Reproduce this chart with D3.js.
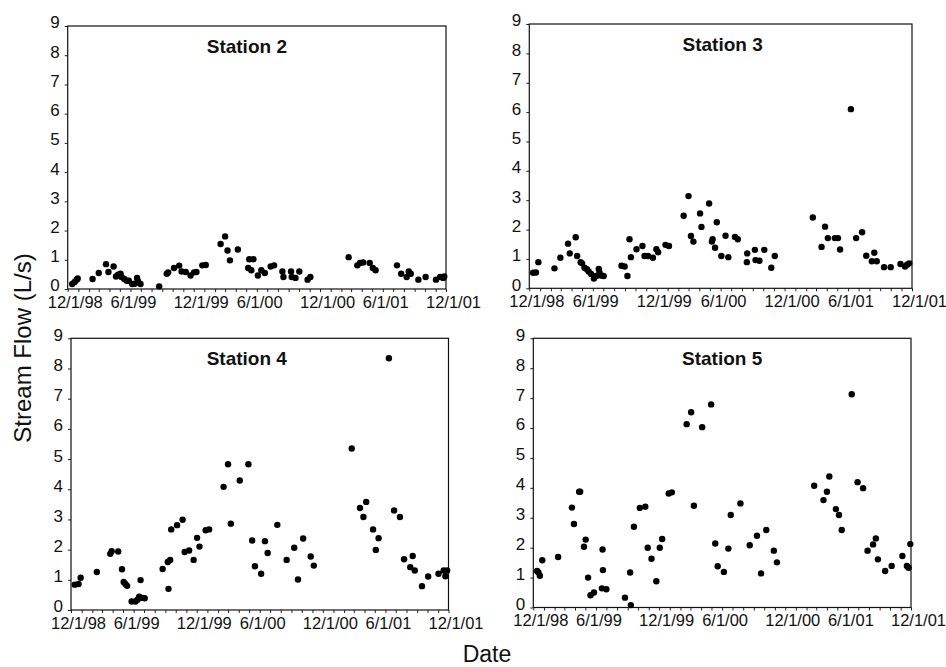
<!DOCTYPE html>
<html>
<head>
<meta charset="utf-8">
<script src="https://cdn.jsdelivr.net/npm/d3@7"></script>
<style>
  html, body { margin: 0; padding: 0; background: #fff; }
  svg { display: block; }
  text { font-family: "Liberation Sans", Arial, sans-serif; fill: #111; }
</style>
</head>
<body>
<svg id="chart" width="946" height="667"></svg>
<script>
// Sampling dates and measured stream flow (L/s) for each station
const station2Dates = ["1998-12-14","1998-12-21","1998-12-27","1998-12-30","1999-02-11","1999-03-01","1999-03-22","1999-03-29","1999-04-13","1999-04-20","1999-04-26","1999-05-03","1999-05-06","1999-05-14","1999-05-21","1999-05-27","1999-06-06","1999-06-13","1999-06-20","1999-06-23","1999-06-30","1999-08-23","1999-09-14","1999-09-18","1999-10-05","1999-10-20","1999-10-27","1999-11-08","1999-11-22","1999-12-02","1999-12-09","1999-12-26","2000-01-05","2000-02-17","2000-03-01","2000-03-08","2000-03-15","2000-04-07","2000-05-07","2000-05-10","2000-05-16","2000-05-22","2000-06-04","2000-06-14","2000-06-24","2000-07-11","2000-07-21","2000-08-14","2000-08-17","2000-09-08","2000-09-10","2000-09-21","2000-10-02","2000-10-26","2000-11-03","2001-02-22","2001-03-19","2001-03-27","2001-04-05","2001-04-24","2001-05-03","2001-05-11","2001-07-12","2001-07-24","2001-08-09","2001-08-15","2001-08-21","2001-09-12","2001-10-03","2001-11-02","2001-11-14","2001-11-23","2001-11-26"];
const station2Flow = [0.17,0.24,0.32,0.36,0.34,0.55,0.85,0.58,0.77,0.43,0.49,0.52,0.41,0.34,0.28,0.28,0.17,0.18,0.38,0.26,0.17,0.09,0.52,0.57,0.72,0.80,0.60,0.58,0.46,0.57,0.58,0.81,0.82,1.54,1.80,1.32,0.98,1.35,0.72,1.02,0.64,1.02,0.46,0.64,0.55,0.77,0.81,0.60,0.41,0.60,0.41,0.38,0.60,0.32,0.41,1.09,0.81,0.89,0.91,0.89,0.72,0.64,0.81,0.52,0.41,0.60,0.52,0.32,0.41,0.32,0.41,0.38,0.43];

const station3Dates = ["1998-12-12","1998-12-20","1998-12-27","1999-02-11","1999-02-28","1999-03-22","1999-03-27","1999-04-13","1999-04-17","1999-04-27","1999-05-01","1999-05-08","1999-05-15","1999-05-20","1999-05-27","1999-06-04","1999-06-11","1999-06-18","1999-06-20","1999-06-26","1999-07-02","1999-08-22","1999-08-31","1999-09-08","1999-09-14","1999-09-18","1999-10-04","1999-10-21","1999-10-27","1999-11-06","1999-11-20","1999-11-30","1999-12-05","1999-12-26","2000-01-05","2000-02-16","2000-03-01","2000-03-08","2000-03-15","2000-04-03","2000-04-07","2000-04-29","2000-05-07","2000-05-09","2000-05-16","2000-05-21","2000-06-03","2000-06-15","2000-06-23","2000-07-12","2000-07-20","2000-08-15","2000-08-16","2000-09-07","2000-09-09","2000-09-20","2000-10-04","2000-10-24","2000-11-03","2001-02-20","2001-03-17","2001-03-27","2001-04-04","2001-04-24","2001-05-03","2001-05-09","2001-06-09","2001-06-24","2001-07-11","2001-07-23","2001-08-08","2001-08-15","2001-08-22","2001-09-12","2001-10-01","2001-10-29","2001-11-11","2001-11-17","2001-11-23"];
const station3Flow = [0.53,0.54,0.89,0.68,1.04,1.52,1.19,1.74,1.10,0.89,0.85,0.70,0.65,0.57,0.49,0.33,0.42,0.66,0.54,0.43,0.42,0.77,0.74,0.42,1.67,1.06,1.33,1.44,1.10,1.10,1.04,1.33,1.23,1.48,1.44,2.47,3.14,1.78,1.59,2.55,2.09,2.89,1.59,1.67,1.38,2.25,1.10,1.79,1.06,1.75,1.67,0.89,1.19,1.31,0.96,0.94,1.31,0.70,1.10,2.41,1.41,2.10,1.71,1.71,1.71,1.32,6.10,1.71,1.91,1.11,0.92,1.21,0.92,0.72,0.72,0.83,0.74,0.80,0.85];

const station4Dates = ["1998-12-12","1998-12-23","1998-12-29","1999-02-14","1999-03-25","1999-03-29","1999-04-17","1999-04-28","1999-05-03","1999-05-08","1999-05-13","1999-05-26","1999-06-06","1999-06-12","1999-06-17","1999-06-21","1999-06-26","1999-07-03","1999-08-24","1999-09-08","1999-09-10","1999-09-15","1999-09-18","1999-10-05","1999-10-21","1999-10-27","1999-11-09","1999-11-22","1999-12-02","1999-12-09","1999-12-27","2000-01-06","2000-02-17","2000-03-01","2000-03-09","2000-04-04","2000-04-29","2000-05-10","2000-05-18","2000-06-05","2000-06-16","2000-06-24","2000-07-22","2000-08-18","2000-09-09","2000-09-20","2000-10-05","2000-10-27","2000-11-05","2001-02-23","2001-03-19","2001-03-29","2001-04-06","2001-04-26","2001-05-04","2001-05-12","2001-06-11","2001-06-26","2001-07-13","2001-07-25","2001-08-12","2001-08-19","2001-08-25","2001-09-15","2001-10-03","2001-11-02","2001-11-17","2001-11-22","2001-11-27"];
const station4Flow = [0.84,0.86,1.07,1.26,1.86,1.95,1.94,1.35,0.93,0.86,0.80,0.28,0.28,0.34,0.44,0.99,0.40,0.39,1.36,1.59,0.70,1.66,2.67,2.81,2.99,1.92,1.97,1.66,2.39,2.10,2.64,2.67,4.08,4.83,2.86,4.29,4.83,2.30,1.45,1.20,2.28,1.89,2.82,1.66,2.06,1.01,2.37,1.77,1.47,5.35,3.38,3.08,3.58,2.67,1.99,2.38,8.34,3.30,3.08,1.68,1.42,1.79,1.31,0.79,1.11,1.20,1.31,1.12,1.31];

const station5Dates = ["1998-12-12","1998-12-16","1998-12-20","1998-12-27","1999-02-11","1999-03-23","1999-03-29","1999-04-13","1999-04-16","1999-04-27","1999-05-02","1999-05-09","1999-05-16","1999-05-26","1999-06-18","1999-06-20","1999-06-21","1999-07-01","1999-08-24","1999-09-08","1999-09-10","1999-09-19","1999-10-06","1999-10-22","1999-10-29","1999-11-09","1999-11-23","1999-12-03","1999-12-10","1999-12-29","2000-01-07","2000-02-19","2000-03-03","2000-03-11","2000-04-04","2000-04-30","2000-05-12","2000-05-19","2000-06-06","2000-06-19","2000-06-26","2000-07-24","2000-08-20","2000-09-10","2000-09-22","2000-10-07","2000-10-29","2000-11-07","2001-02-23","2001-03-22","2001-04-01","2001-04-08","2001-04-27","2001-05-06","2001-05-14","2001-06-12","2001-06-29","2001-07-15","2001-07-28","2001-08-13","2001-08-21","2001-08-27","2001-09-17","2001-10-06","2001-11-06","2001-11-19","2001-11-24","2001-11-29"];
const station5Flow = [1.22,1.17,1.06,1.58,1.69,3.34,2.79,3.87,3.87,2.03,2.27,1.00,0.41,0.50,0.64,1.94,1.25,0.61,0.33,1.17,0.08,2.70,3.33,3.37,2.00,1.63,0.88,2.00,2.29,3.81,3.85,6.13,6.53,3.40,6.03,6.79,2.14,1.38,1.19,1.97,3.09,3.48,2.08,2.40,1.14,2.59,1.90,1.51,4.07,3.59,3.87,4.38,3.29,3.09,2.59,7.13,4.19,3.99,1.90,2.11,2.31,1.61,1.22,1.39,1.72,1.39,1.33,2.12];

const stationNames = ["Station 2", "Station 3", "Station 4", "Station 5"];
const yTickValues = [0, 1, 2, 3, 4, 5, 6, 7, 8, 9];
const xTickDates = ["1998-12-01","1999-06-01","1999-12-01","2000-06-01","2000-12-01","2001-06-01","2001-12-01"];
const xTickLabels = ["12/1/98","6/1/99","12/1/99","6/1/00","12/1/00","6/1/01","12/1/01"];
const xDomain = ["1998-12-01", "2001-12-01"];
const yTitle = "Stream Flow (L/s)";
const xTitle = "Date";

const parse = d3.utcParse("%Y-%m-%d");

const stations = [
  { name: stationNames[0], dates: station2Dates, flow: station2Flow },
  { name: stationNames[1], dates: station3Dates, flow: station3Flow },
  { name: stationNames[2], dates: station4Dates, flow: station4Flow },
  { name: stationNames[3], dates: station5Dates, flow: station5Flow }
];

// Plot-area boxes for the 2x2 grid of panels
const panels = [
  { left: 67.7,  right: 446,   top: 26,    bottom: 289,   titleDx: -10 },
  { left: 529.3, right: 912,   top: 24,    bottom: 288.3, titleDx: 2 },
  { left: 71,    right: 448.5, top: 338.3, bottom: 610,   titleDx: -13 },
  { left: 533.3, right: 911,   top: 338.3, bottom: 607.5, titleDx: 0 }
];

const svg = d3.select("#chart");

stations.forEach((st, i) => {
  const p = panels[i];
  const x = d3.scaleUtc().domain(xDomain.map(parse)).range([p.left, p.right]);
  const y = d3.scaleLinear().domain([0, 9]).range([p.bottom, p.top]);
  const g = svg.append("g");

  // monthly minor ticks on the date axis
  const months = d3.utcMonth.range(parse(xDomain[0]), d3.utcDay.offset(parse(xDomain[1]), 1));
  const xMinor = g.append("g")
    .attr("transform", `translate(0,${p.bottom})`)
    .call(d3.axisBottom(x).tickValues(months).tickSize(3).tickFormat(""));
  xMinor.select(".domain").remove();
  xMinor.selectAll("line").attr("stroke", "#222");

  // date labels, left-aligned just before each half-year tick
  const xLab = g.append("g")
    .attr("transform", `translate(0,${p.bottom})`)
    .call(d3.axisBottom(x)
      .tickValues(xTickDates.map(parse))
      .tickSize(0)
      .tickFormat((d, k) => xTickLabels[k]));
  xLab.select(".domain").remove();
  xLab.selectAll("text")
    .attr("text-anchor", "start")
    .attr("dx", -20.5)
    .attr("y", 0)
    .attr("dy", 18.5)
    .style("font-size", "16.5px")
    .style("fill", "#111");

  // flow axis
  const yAx = g.append("g")
    .attr("transform", `translate(${p.left},0)`)
    .call(d3.axisLeft(y).tickValues(yTickValues).tickSize(3).tickPadding(5));
  yAx.select(".domain").remove();
  yAx.selectAll("line").attr("stroke", "#222");
  yAx.selectAll("text")
    .attr("y", -3.5)
    .style("font-size", "17px")
    .style("fill", "#111");

  // plot frame
  g.append("rect")
    .attr("x", p.left).attr("y", p.top)
    .attr("width", p.right - p.left).attr("height", p.bottom - p.top)
    .attr("fill", "none").attr("stroke", "#111").attr("stroke-width", 1.2);

  // station title
  g.append("text")
    .attr("x", (p.left + p.right) / 2 + p.titleDx)
    .attr("y", p.top + 26.5)
    .attr("text-anchor", "middle")
    .style("font-size", "19px")
    .style("font-weight", "bold")
    .text(st.name);

  // sample points
  g.append("g").selectAll("circle")
    .data(st.dates.map((d, k) => ({ date: parse(d), flow: st.flow[k] })))
    .join("circle")
    .attr("cx", d => x(d.date))
    .attr("cy", d => y(d.flow))
    .attr("r", 3.2)
    .attr("fill", "#000");
});

// shared axis titles
svg.append("text")
  .attr("transform", "translate(31,348) rotate(-90)")
  .attr("text-anchor", "middle")
  .style("font-size", "24px")
  .text(yTitle);

svg.append("text")
  .attr("x", 487)
  .attr("y", 662)
  .attr("text-anchor", "middle")
  .style("font-size", "23px")
  .text(xTitle);
</script>
</body>
</html>
